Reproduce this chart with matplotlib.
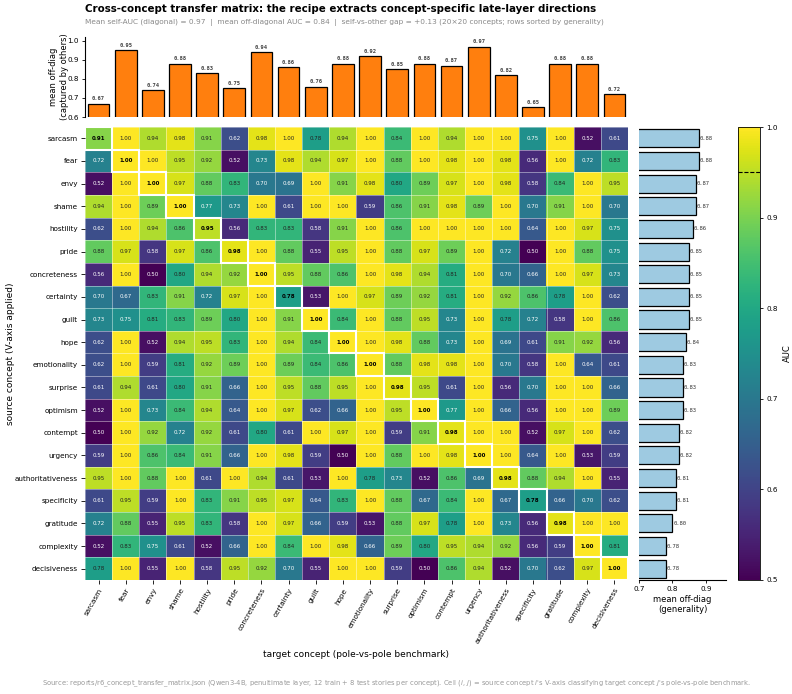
import numpy as np
import matplotlib
matplotlib.use("Agg")
import matplotlib.pyplot as plt
from matplotlib.patches import Rectangle

concepts = ["sarcasm", "fear", "envy", "shame", "hostility", "pride", "concreteness",
            "certainty", "guilt", "hope", "emotionality", "surprise", "optimism",
            "contempt", "urgency", "authoritativeness", "specificity", "gratitude",
            "complexity", "decisiveness"]

row_sarcasm = [0.91, 1.00, 0.94, 0.98, 0.91, 0.62, 0.98, 1.00, 0.78, 0.94, 1.00, 0.84, 1.00, 0.94, 1.00, 1.00, 0.75, 1.00, 0.52, 0.61]
row_fear = [0.72, 1.00, 1.00, 0.95, 0.92, 0.52, 0.73, 0.98, 0.94, 0.97, 1.00, 0.88, 1.00, 0.98, 1.00, 0.98, 0.56, 1.00, 0.72, 0.83]
row_envy = [0.52, 1.00, 1.00, 0.97, 0.88, 0.83, 0.70, 0.69, 1.00, 0.91, 0.98, 0.80, 0.89, 0.97, 1.00, 0.98, 0.58, 0.84, 1.00, 0.95]
row_shame = [0.94, 1.00, 0.89, 1.00, 0.77, 0.73, 1.00, 0.61, 1.00, 1.00, 0.59, 0.86, 0.91, 0.98, 0.89, 1.00, 0.70, 0.91, 1.00, 0.70]
row_hostility = [0.62, 1.00, 0.94, 0.86, 0.95, 0.56, 0.83, 0.83, 0.58, 0.91, 1.00, 0.86, 1.00, 1.00, 1.00, 1.00, 0.64, 1.00, 0.97, 0.75]
row_pride = [0.88, 0.97, 0.58, 0.97, 0.86, 0.98, 1.00, 0.88, 0.55, 0.95, 1.00, 0.88, 0.97, 0.89, 1.00, 0.72, 0.50, 1.00, 0.88, 0.75]
row_concreteness = [0.56, 1.00, 0.50, 0.80, 0.94, 0.92, 1.00, 0.95, 0.88, 0.86, 1.00, 0.98, 0.94, 0.81, 1.00, 0.70, 0.66, 1.00, 0.97, 0.73]
row_certainty = [0.70, 0.67, 0.83, 0.91, 0.72, 0.97, 1.00, 0.78, 0.53, 1.00, 0.97, 0.89, 0.92, 0.81, 1.00, 0.92, 0.86, 0.78, 1.00, 0.62]
row_guilt = [0.73, 0.75, 0.81, 0.83, 0.89, 0.80, 1.00, 0.91, 1.00, 0.84, 1.00, 0.88, 0.95, 0.73, 1.00, 0.78, 0.72, 0.58, 1.00, 0.86]
row_hope = [0.62, 1.00, 0.52, 0.94, 0.95, 0.83, 1.00, 0.94, 0.84, 1.00, 1.00, 0.98, 0.88, 0.73, 1.00, 0.69, 0.61, 0.91, 0.92, 0.56]
row_emotionality = [0.62, 1.00, 0.59, 0.81, 0.92, 0.89, 1.00, 0.89, 0.84, 0.86, 1.00, 0.88, 0.98, 0.98, 1.00, 0.70, 0.58, 1.00, 0.64, 0.61]
row_surprise = [0.61, 0.94, 0.61, 0.80, 0.91, 0.66, 1.00, 0.95, 0.88, 0.95, 1.00, 0.98, 0.95, 0.61, 1.00, 0.56, 0.70, 1.00, 1.00, 0.66]
row_optimism = [0.52, 1.00, 0.73, 0.84, 0.94, 0.64, 1.00, 0.97, 0.62, 0.66, 1.00, 0.95, 1.00, 0.77, 1.00, 0.66, 0.56, 1.00, 1.00, 0.89]
row_contempt = [0.50, 1.00, 0.92, 0.72, 0.92, 0.61, 0.80, 0.61, 1.00, 0.97, 1.00, 0.59, 0.91, 0.98, 1.00, 1.00, 0.52, 0.97, 1.00, 0.62]
row_urgency = [0.59, 1.00, 0.86, 0.84, 0.91, 0.66, 1.00, 0.98, 0.59, 0.50, 1.00, 0.88, 1.00, 0.98, 1.00, 1.00, 0.64, 1.00, 0.53, 0.59]
row_authoritativeness = [0.95, 1.00, 0.88, 1.00, 0.61, 1.00, 0.94, 0.61, 0.53, 1.00, 0.78, 0.73, 0.52, 0.86, 0.69, 0.98, 0.88, 0.94, 1.00, 0.55]
row_specificity = [0.61, 0.95, 0.59, 1.00, 0.83, 0.91, 0.95, 0.97, 0.64, 0.83, 1.00, 0.88, 0.67, 0.84, 1.00, 0.67, 0.78, 0.66, 0.70, 0.62]
row_gratitude = [0.72, 0.88, 0.55, 0.95, 0.83, 0.58, 1.00, 0.97, 0.66, 0.59, 0.53, 0.88, 0.97, 0.78, 1.00, 0.73, 0.56, 0.98, 1.00, 1.00]
row_complexity = [0.52, 0.83, 0.75, 0.61, 0.52, 0.66, 1.00, 0.84, 1.00, 0.98, 0.66, 0.89, 0.80, 0.95, 0.94, 0.92, 0.56, 0.59, 1.00, 0.81]
row_decisiveness = [0.78, 1.00, 0.55, 1.00, 0.58, 0.95, 0.92, 0.70, 0.55, 1.00, 1.00, 0.59, 0.50, 0.86, 0.94, 0.52, 0.70, 0.62, 0.97, 1.00]

matrix_rows = [row_sarcasm, row_fear, row_envy, row_shame, row_hostility, row_pride,
               row_concreteness, row_certainty, row_guilt, row_hope, row_emotionality,
               row_surprise, row_optimism, row_contempt, row_urgency, row_authoritativeness,
               row_specificity, row_gratitude, row_complexity, row_decisiveness]

col_captured = [0.67, 0.95, 0.74, 0.88, 0.83, 0.75, 0.94, 0.86, 0.76, 0.88, 0.92, 0.85,
                0.88, 0.87, 0.97, 0.82, 0.65, 0.88, 0.88, 0.72]
row_generality = [0.88, 0.88, 0.87, 0.87, 0.86, 0.85, 0.85, 0.85, 0.85, 0.84, 0.83, 0.83,
                  0.83, 0.82, 0.82, 0.81, 0.81, 0.80, 0.78, 0.78]

M = np.array(matrix_rows)
n = len(concepts)

W, H = 792, 694
fig = plt.figure(figsize=(W / 100, H / 100), dpi=100)

def rect(l, t, r, b):
    return [l / W, 1 - b / H, (r - l) / W, (b - t) / H]

ax = fig.add_axes(rect(85, 127, 628, 580))
ax_top = fig.add_axes(rect(85, 37, 628, 117))
ax_right = fig.add_axes(rect(639, 127, 726, 580))
cax = fig.add_axes(rect(738, 127, 760, 580))

# Heatmap
im = ax.imshow(M, cmap="viridis", vmin=0.5, vmax=1.0, aspect="auto")
ax.set_xticks(np.arange(n))
ax.set_yticks(np.arange(n))
ax.set_xticklabels(concepts, rotation=60, ha="right", rotation_mode="anchor", fontsize=5.2)
ax.set_yticklabels(concepts, fontsize=5.2)
ax.set_xticks(np.arange(-0.5, n, 1), minor=True)
ax.set_yticks(np.arange(-0.5, n, 1), minor=True)
ax.grid(which="minor", color="white", linewidth=0.6, alpha=0.5)
ax.tick_params(which="minor", length=0)
ax.tick_params(which="major", length=3, width=0.6, pad=2)
for s in ax.spines.values():
    s.set_visible(False)
for i in range(n):
    for j in range(n):
        v = M[i, j]
        if i == j:
            ax.text(j, i, f"{v:.2f}", ha="center", va="center", fontsize=4,
                    fontweight="bold", color="black")
            ax.add_patch(Rectangle((j - 0.5, i - 0.5), 1, 1, fill=False,
                                   edgecolor="white", linewidth=1.5))
        else:
            c = "white" if v < 0.78 else "#222222"
            ax.text(j, i, f"{v:.2f}", ha="center", va="center", fontsize=4, color=c)
ax.set_xlabel("target concept (pole-vs-pole benchmark)", fontsize=6.5, labelpad=4)
ax.set_ylabel("source concept (V-axis applied)", fontsize=6.5)
ax.yaxis.set_label_coords(-0.128, 0.5)

# Top bars
x = np.arange(n)
ax_top.bar(x, col_captured, width=0.8, color="#ff7f0e", edgecolor="black", linewidth=0.9)
for xi, v in zip(x, col_captured):
    ax_top.text(xi, v + 0.012, f"{v:.2f}", ha="center", va="bottom", fontsize=4,
                family="monospace", fontweight="bold", color="#444444")
ax_top.set_xlim(-0.5, n - 0.5)
ax_top.set_ylim(0.6, 1.02)
ax_top.set_yticks([0.6, 0.7, 0.8, 0.9, 1.0])
ax_top.tick_params(axis="y", labelsize=5.2, length=2.5, width=0.6, pad=2)
ax_top.set_xticks([])
ax_top.spines["top"].set_visible(False)
ax_top.spines["right"].set_visible(False)
ax_top.spines["bottom"].set_visible(False)
ax_top.set_ylabel("mean off-diag\n(captured by others)", fontsize=6)
ax_top.yaxis.set_label_coords(-0.03, 0.5)

# Right bars
y = np.arange(n)
ax_right.barh(y, row_generality, height=0.8, color="#9ecae1", edgecolor="black", linewidth=0.9)
for yi, v in zip(y, row_generality):
    ax_right.text(v + 0.002, yi, f"{v:.2f}", ha="left", va="center", fontsize=4,
                  family="monospace", color="#333333")
ax_right.set_ylim(n - 0.5, -0.5)
ax_right.set_xlim(0.7, 0.96)
ax_right.set_xticks([0.7, 0.8, 0.9])
ax_right.set_yticks([])
ax_right.tick_params(axis="x", labelsize=5.2, length=2.5, width=0.6, pad=2)
ax_right.spines["top"].set_visible(False)
ax_right.spines["right"].set_visible(False)
ax_right.spines["left"].set_visible(False)
ax_right.set_xlabel("mean off-diag\n(generality)", fontsize=6, labelpad=2)

# Colorbar
cb = fig.colorbar(im, cax=cax)
cb.set_ticks([0.5, 0.6, 0.7, 0.8, 0.9, 1.0])
cb.ax.tick_params(labelsize=5.2, length=2.5, width=0.6, pad=2)
cb.set_label("AUC", fontsize=6, labelpad=4)
cb.outline.set_linewidth(0.6)
cax.axhline(0.95, color="black", linestyle="--", linewidth=0.8)

# Titles
fig.text(85 / W, 1 - 4 / H, "Cross-concept transfer matrix: the recipe extracts concept-specific late-layer directions",
         ha="left", va="top", fontsize=7.4, fontweight="bold")
fig.text(85 / W, 1 - 19 / H,
         "Mean self-AUC (diagonal) = 0.97  |  mean off-diagonal AUC = 0.84  |  self-vs-other gap = +0.13 (20×20 concepts; rows sorted by generality)",
         ha="left", va="top", fontsize=5.3, color="#888888")
fig.text(0.5, 1 - 684 / H,
         "Source: reports/r6_concept_transfer_matrix.json (Qwen3-4B, penultimate layer, 12 train + 8 test stories per concept). "
         "Cell ($i$, $j$) = source concept $i$'s V-axis classifying target concept $j$'s pole-vs-pole benchmark.",
         ha="center", va="center", fontsize=4.85, color="#999999")

fig.savefig("out.png", dpi=100)
